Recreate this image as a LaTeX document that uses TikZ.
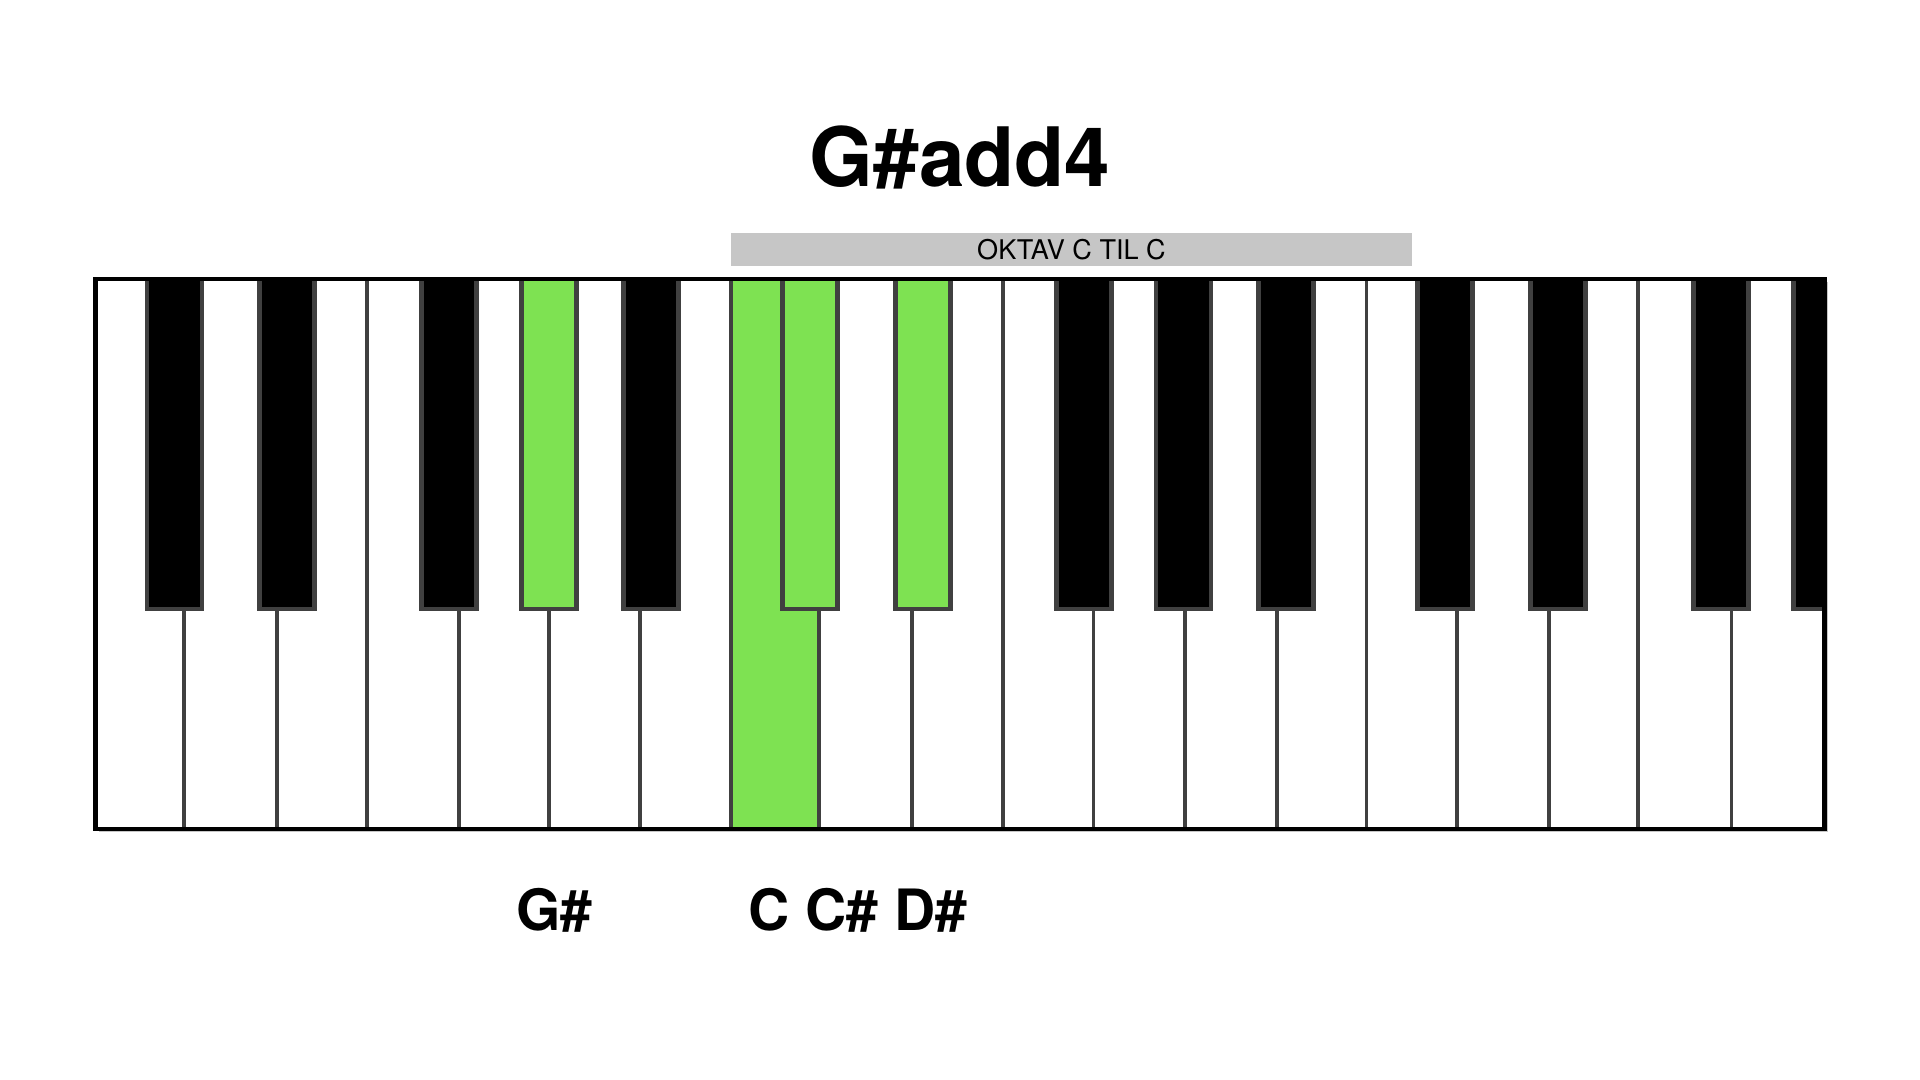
\documentclass[tikz,border=0pt]{standalone}
\usepackage{fontspec}
\setmainfont{TeX Gyre Heros}
\usepackage{tikz}
\usetikzlibrary{positioning}
\definecolor{keygreen}{RGB}{126,226,82}
\definecolor{keyedge}{RGB}{64,64,64}
\definecolor{bargray}{RGB}{198,198,198}
\tikzset{
  titletext/.style={font=\fontsize{23.3pt}{28pt}\selectfont\bfseries},
  notetext/.style={font=\fontsize{16.2pt}{20pt}\selectfont\bfseries},
  octbar/.style={rectangle, fill=bargray, minimum width=6.81cm,
    minimum height=0.33cm, inner sep=0pt,
    font=\fontsize{7.7pt}{9pt}\selectfont},
  keyline/.style={draw=keyedge, line width=1.1pt},
  blackkey/.style={draw=keyedge, line width=1.4pt},
  frameline/.style={draw=black, line width=1.2pt}
}

\begin{document}
\begin{tikzpicture}[x=0.01cm, y=0.01cm]
  \useasboundingbox (0,0) rectangle (1920,1080);
  % Title and octave bar
  \node[titletext, anchor=base] (title) at (960,893) {G\#add4};
  \node[octbar] (octave) at (1071.5,830.8) {OKTAV C TIL C};

  % White keys
  \fill[gray!45] (99,247.5) rectangle (1828,797.5);
  \fill[white] (95.5,251) rectangle (1824.5,801);
  \fill[keygreen] (731,251) rectangle (819.2,801);
  \foreach \x in {183.7, 276.7, 367.4, 459.2, 548.6, 640.4, 731.0, 819.2, 912.3,
                  1002.9, 1093.5, 1185.3, 1277.2, 1366.5, 1457.2, 1549.0, 1638.4, 1731.5}
    \draw[keyline] (\x,251) -- (\x,801);

  % Black keys
  \begin{scope}
    \clip (95.5,251) rectangle (1824.5,801);
    \foreach \x/\col in {174.5/black, 287.1/black, 448.8/black, 548.6/keygreen,
                         650.8/black, 810.0/keygreen, 922.7/keygreen,
                         1084.3/black, 1183.5/black, 1286.3/black,
                         1445.4/black, 1558.2/black, 1721.0/black, 1821.4/black}
      \draw[blackkey, fill=\col] (\x-27.5,471) rectangle ++(55,345);
  \end{scope}
  \draw[frameline] (95.5,251) rectangle (1824.5,801);

  % Chord tones
  \node[notetext, anchor=base] (gsharp) at (554,149) {G\#};
  \node[notetext, anchor=base] (others) at (858,149) {C C\# D\#};
\end{tikzpicture}
\end{document}
